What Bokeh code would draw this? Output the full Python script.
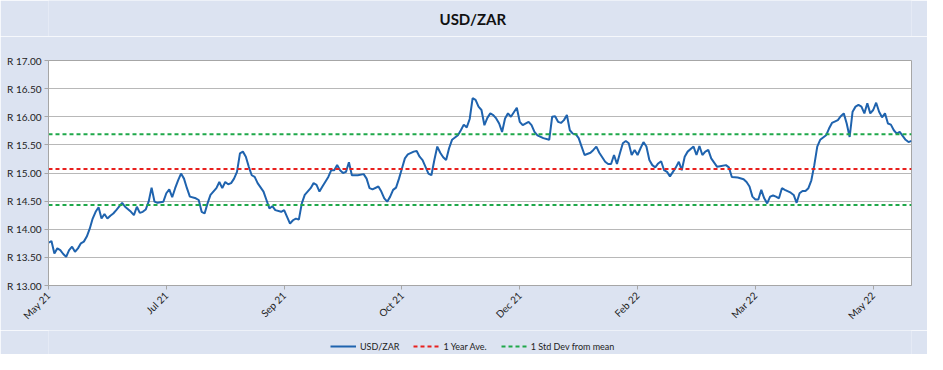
from bokeh.plotting import figure
from bokeh.layouts import column
from bokeh.models import (Range1d, FixedTicker, SingleIntervalTicker, PrintfTickFormatter,
                          Legend, LegendItem, Label)
from bokeh.embed import file_html
from bokeh.resources import INLINE

# ---- data (trading-day index, USD/ZAR rate) ----
days = [0,1,2,3,4,5,6,7,8,9,10,11,12,13,14,15,16,17,18,19,20,21,22,23,25,26,28,29,30,31,32,33,34,35,36,37,39,40,41,42,43,44,45,46,47,48,50,51,52,53,54,55,57,58,59,60,61,62,63,64,65,66,67,68,69,70,71,73,74,75,76,77,79,80,81,82,83,84,85,86,87,89,90,91,92,93,95,96,97,98,99,100,101,102,103,105,107,108,109,110,112,113,114,115,116,117,118,119,120,121,122,124,125,126,127,128,129,130,131,132,133,134,135,136,137,139,140,141,142,143,144,145,146,147,148,149,150,151,152,153,154,155,156,157,159,160,161,163,164,165,166,168,170,171,172,173,174,175,176,177,178,179,180,181,182,184,185,186,187,189,190,191,192,193,194,195,196,197,198,199,200,201,202,203,204,205,206,207,208,209,210,211,212,213,214,215,216,217,219,220,221,222,223,224,225,227,228,230,231,232,234,236,237,238,239,240,241,242,243,244,245,246,247,248,249,250,252,253,254,255,256,257,258,259,260,261,262,264,265,266,268,269,270,271,272,273,274,275,276,277,278,279,280,281,282,283,284,285,286,287,288,289,290,291,292,293]
rates = [13.76,13.79,13.57,13.66,13.63,13.56,13.51,13.63,13.69,13.60,13.66,13.75,13.78,13.87,14.01,14.19,14.31,14.39,14.19,14.27,14.19,14.24,14.28,14.34,14.47,14.40,14.31,14.25,14.40,14.29,14.31,14.35,14.49,14.74,14.49,14.47,14.49,14.64,14.71,14.57,14.73,14.87,14.99,14.90,14.73,14.58,14.55,14.52,14.31,14.28,14.46,14.61,14.73,14.84,14.73,14.84,14.80,14.82,14.90,15.02,15.35,15.38,15.29,15.11,14.96,14.93,14.82,14.67,14.52,14.37,14.41,14.34,14.31,14.34,14.22,14.10,14.16,14.19,14.17,14.46,14.61,14.73,14.82,14.79,14.67,14.76,14.93,15.05,15.05,15.14,15.05,15.00,15.02,15.19,14.96,14.96,14.98,14.90,14.73,14.71,14.76,14.67,14.55,14.49,14.58,14.70,14.74,14.90,15.08,15.26,15.33,15.38,15.39,15.29,15.23,15.11,14.99,14.96,15.23,15.47,15.36,15.28,15.23,15.44,15.59,15.67,15.76,15.86,15.81,15.96,16.33,16.30,16.18,16.12,15.85,15.98,16.06,16.03,15.97,15.88,15.73,15.97,16.06,16.00,16.16,15.91,15.85,15.91,15.85,15.73,15.67,15.62,15.59,16.00,16.01,15.91,15.89,15.94,16.03,15.76,15.70,15.69,15.62,15.47,15.32,15.36,15.41,15.47,15.36,15.20,15.16,15.16,15.32,15.16,15.35,15.53,15.57,15.53,15.32,15.41,15.32,15.44,15.55,15.47,15.23,15.14,15.10,15.17,15.21,15.05,15.02,14.94,15.02,15.10,15.20,15.05,15.29,15.38,15.47,15.32,15.48,15.32,15.38,15.41,15.26,15.11,15.12,15.14,15.10,14.93,14.92,14.89,14.84,14.76,14.58,14.53,14.53,14.70,14.55,14.46,14.58,14.60,14.58,14.55,14.73,14.70,14.65,14.61,14.47,14.64,14.68,14.68,14.73,14.87,15.14,15.47,15.59,15.67,15.79,15.89,15.94,16.01,16.06,15.88,15.64,16.09,16.18,16.21,16.18,16.06,16.24,16.06,16.12,16.25,16.09,15.99,16.06,15.88,15.86,15.76,15.70,15.73,15.66,15.59,15.55,15.57]

year_avg = 15.07
std_upper = 15.69
std_lower = 14.43

tick_days = [0, 40, 80, 120, 160, 200, 240, 280]
tick_labels = ["May 21", "Jul 21", "Sep 21", "Oct 21", "Dec 21", "Feb 22", "Mar 22", "May 22"]
series_names = ["USD/ZAR", "1 Year Ave.", "1 Std Dev from mean"]
chart_title = "USD/ZAR"

BG = "#DCE3F1"
FONT = "Lato"
BLUE, RED, GREEN = "#1F63AE", "#E8201E", "#1FA84A"


def strip(height):
    s = figure(width=927, height=height, output_backend="svg", toolbar_location=None,
               x_range=Range1d(0, 1), y_range=Range1d(0, 1),
               min_border_left=48, min_border_right=16, min_border_top=0, min_border_bottom=0)
    s.axis.visible = False
    s.grid.grid_line_color = None
    s.outline_line_color = None
    s.background_fill_color = BG
    s.border_fill_color = BG
    s.title.text = ""
    return s


# ---- title strip ----
top = strip(36)
top.add_layout(Label(x=391, y=18, x_units="screen", y_units="screen", text=chart_title,
                     text_font=FONT, text_font_size="15px", text_font_style="bold",
                     text_color="#111111", text_baseline="middle"))

# ---- main chart ----
p = figure(width=927, height=294, output_backend="svg", toolbar_location=None,
           x_range=Range1d(0, 293), y_range=Range1d(13, 17),
           min_border_left=48, min_border_right=16, min_border_top=24, min_border_bottom=45)
p.background_fill_color = "white"
p.border_fill_color = BG
p.outline_line_color = "#A6A6A6"
p.outline_line_width = 1

p.line(days, rates, line_color=BLUE, line_width=2)
xs = [days[0], days[-1]]
p.line(xs, [year_avg, year_avg], line_color=RED, line_width=2, line_dash="4 3")
p.line(xs, [std_upper, std_upper], line_color=GREEN, line_width=2, line_dash="4 3")
p.line(xs, [std_lower, std_lower], line_color=GREEN, line_width=2, line_dash="4 3")

yax = p.yaxis[0]
yax.ticker = SingleIntervalTicker(interval=0.5)
yax.formatter = PrintfTickFormatter(format="R %.2f")
yax.major_label_text_font = FONT
yax.major_label_text_font_size = "10px"
yax.major_label_text_color = "#222222"
yax.axis_line_color = "#A6A6A6"
yax.major_tick_line_color = "#A6A6A6"
yax.major_tick_out = 4
yax.major_tick_in = 0
yax.minor_tick_line_color = None
yax.major_label_standoff = 3

xax = p.xaxis[0]
xax.ticker = FixedTicker(ticks=tick_days)
xax.major_label_overrides = {d: l for d, l in zip(tick_days, tick_labels)}
xax.major_label_orientation = 0.785398
xax.major_label_text_font = FONT
xax.major_label_text_font_size = "10px"
xax.major_label_text_color = "#222222"
xax.axis_line_color = "#A6A6A6"
xax.major_tick_line_color = "#A6A6A6"
xax.major_tick_out = 4
xax.major_tick_in = 0
xax.minor_tick_line_color = None
xax.major_label_standoff = 4

p.xgrid.grid_line_color = None
p.ygrid.grid_line_color = "#B8B8B8"
p.ygrid.grid_line_width = 1

# ---- legend strip (proxy lines lie outside the strip's visible range) ----
lg = strip(24)
g1 = lg.line(days[:2], rates[:2], line_color=BLUE, line_width=2)
g2 = lg.line(xs, [year_avg, year_avg], line_color=RED, line_width=2, line_dash="4 3")
g3 = lg.line(xs, [std_upper, std_upper], line_color=GREEN, line_width=2, line_dash="4 3")
legend = Legend(items=[LegendItem(label=n, renderers=[r]) for n, r in zip(series_names, [g1, g2, g3])],
                orientation="horizontal", location=(282, 2))
legend.background_fill_alpha = 0
legend.border_line_color = None
legend.label_text_font = FONT
legend.label_text_font_size = "9px"
legend.label_text_color = "#222222"
legend.glyph_width = 26
legend.glyph_height = 12
legend.label_height = 12
legend.label_standoff = 4
legend.spacing = 14
legend.padding = 2
legend.margin = 0
lg.add_layout(legend, "center")

layout = column(top, p, lg, spacing=0)
open("out.html", "w").write(file_html(layout, INLINE))
